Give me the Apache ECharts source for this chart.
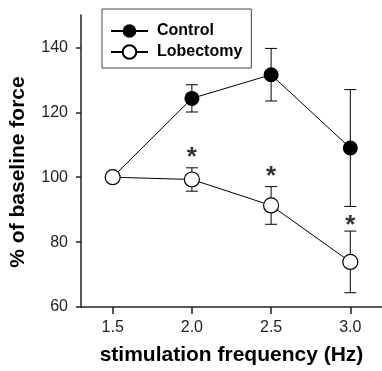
<!DOCTYPE html>
<html>
<head>
<meta charset="utf-8">
<script src="https://cdn.jsdelivr.net/npm/echarts@6/dist/echarts.min.js"></script>
<style>
  html, body { margin: 0; padding: 0; background: #fff; }
  #chart { width: 382px; height: 371px; }
</style>
</head>
<body>
<div id="chart"></div>
<script>
const frequencies = [1.5, 2.0, 2.5, 3.0]
const controlMean = [100, 124.3, 131.6, 109.0]
const controlErr = [0, 4.2, 8.1, 18.0]
const lobectomyMean = [100, 99.3, 91.3, 73.9]
const lobectomyErr = [0, 3.6, 5.8, 9.5]
const starFreqs = [2.0, 2.5, 3.0]
const starLevels = [107.8, 102.1, 87.0]
const yTicks = [60, 80, 100, 120, 140]

const FONT = '"Liberation Sans", Arial, sans-serif'
const INK = '#000'
const AXIS = '#222'

function errorBars(mean, err) {
  return {
    type: 'custom',
    z: 1,
    silent: true,
    data: frequencies.map((f, i) => [f, mean[i] - err[i], mean[i] + err[i]]).filter(d => d[2] > d[1]),
    encode: { x: 0, y: [1, 2] },
    renderItem: (params, api) => {
      const lo = api.coord([api.value(0), api.value(1)])
      const hi = api.coord([api.value(0), api.value(2)])
      const half = 6
      const style = { stroke: INK, lineWidth: 1 }
      return {
        type: 'group',
        children: [
          { type: 'line', shape: { x1: lo[0], y1: lo[1], x2: hi[0], y2: hi[1] }, style },
          { type: 'line', shape: { x1: hi[0] - half, y1: hi[1], x2: hi[0] + half, y2: hi[1] }, style },
          { type: 'line', shape: { x1: lo[0] - half, y1: lo[1], x2: lo[0] + half, y2: lo[1] }, style },
        ],
      }
    },
  }
}

const chart = echarts.init(document.getElementById('chart'))
chart.setOption({
  animation: false,
  textStyle: { fontFamily: FONT },
  grid: { left: 81, top: 15, width: 304, height: 294, containLabel: false },
  legend: {
    data: ['Control', 'Lobectomy'],
    orient: 'vertical',
    left: 102,
    top: 9,
    padding: [14, 9, 8, 8],
    itemWidth: 37,
    itemHeight: 17,
    itemGap: 5,
    borderColor: '#444',
    borderWidth: 1,
    textStyle: { fontFamily: FONT, fontSize: 16, fontWeight: 'bold', color: INK, padding: [0, 0, 0, 4] },
  },
  xAxis: {
    type: 'value',
    min: 1.3,
    max: 3.2,
    name: 'stimulation frequency (Hz)',
    nameLocation: 'middle',
    nameGap: 38,
    nameTextStyle: { fontFamily: FONT, fontSize: 21, fontWeight: 'bold', color: INK },
    axisLine: { onZero: false, lineStyle: { color: AXIS, width: 1.5 } },
    axisTick: { customValues: frequencies, length: 7, lineStyle: { color: AXIS, width: 1.5 } },
    axisLabel: { customValues: frequencies, margin: 13, fontSize: 16, color: '#222', formatter: v => v.toFixed(1) },
    splitLine: { show: false },
  },
  yAxis: {
    type: 'value',
    min: 60,
    max: 150,
    interval: 20,
    name: '% of baseline force',
    nameLocation: 'middle',
    nameGap: 52,
    nameTextStyle: { fontFamily: FONT, fontSize: 21, fontWeight: 'bold', color: INK, padding: [0, 22, 0, 0] },
    axisLine: { show: true, lineStyle: { color: AXIS, width: 1.5 } },
    axisTick: { customValues: yTicks, length: 5, lineStyle: { color: AXIS, width: 1.5 } },
    axisLabel: { customValues: yTicks, margin: 13, fontSize: 16, color: '#222' },
    splitLine: { show: false },
  },
  series: [
    errorBars(controlMean, controlErr),
    errorBars(lobectomyMean, lobectomyErr),
    {
      name: 'Control',
      type: 'line',
      z: 3,
      data: frequencies.map((f, i) => [f, controlMean[i]]),
      symbol: 'circle',
      symbolSize: 15,
      itemStyle: { color: INK },
      lineStyle: { color: INK, width: 1 },
      emphasis: { disabled: true },
    },
    {
      name: 'Lobectomy',
      type: 'line',
      z: 4,
      data: frequencies.map((f, i) => [f, lobectomyMean[i]]),
      symbol: 'circle',
      symbolSize: 15,
      itemStyle: { color: '#fff', borderColor: INK, borderWidth: 1.2 },
      lineStyle: { color: INK, width: 1 },
      emphasis: { disabled: true },
    },
    {
      type: 'scatter',
      z: 5,
      silent: true,
      data: starFreqs.map((f, i) => [f, starLevels[i]]),
      symbolSize: 1,
      itemStyle: { color: 'rgba(0,0,0,0)' },
      label: {
        show: true,
        position: 'inside',
        formatter: '*',
        fontFamily: FONT,
        fontSize: 26,
        fontWeight: 'bold',
        color: INK,
        offset: [0, 6],
      },
    },
  ],
})
</script>
</body>
</html>
